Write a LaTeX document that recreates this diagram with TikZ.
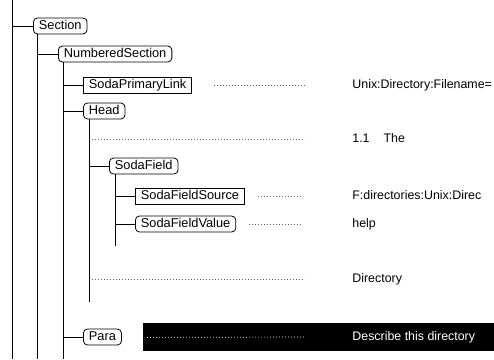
\documentclass[tikz,border=0pt]{standalone}
\usepackage{fontspec}
\setmainfont{Liberation Sans}
\begin{document}
\begin{tikzpicture}[x=1pt, y=-1pt, line width=0.8pt,
  font=\fontsize{12.8}{14}\selectfont,
  tag/.style={draw, rounded corners=4pt, anchor=west, inner xsep=5.5pt, inner ysep=2.2pt, text height=9pt, text depth=2.5pt},
  field/.style={tag, rounded corners=0pt},
  val/.style={anchor=west, inner sep=0pt, text height=9pt, text depth=2.5pt, font=\fontsize{12.4}{14}\selectfont},
  leader/.style={black!60, line width=0.7pt, dash pattern=on 0.8pt off 2.2pt}]

\useasboundingbox (0,0) rectangle (494,359);

% element tree
\node[tag] (sec) at (33,26) {Section};
\node[tag] (nsec) at (58,54) {NumberedSection};
\node[field] (spl) at (83,85) {SodaPrimaryLink};
\node[tag] (head) at (83,111) {Head};
\node[tag] (sf) at (109,166) {SodaField};
\node[field] (sfs) at (135,196) {SodaFieldSource};
\node[tag] (sfv) at (135,224) {SodaFieldValue};
\node[tag] (para) at (83,337) {Para};

% highlighted row
\node[fill=black, anchor=north west, minimum width=351pt, minimum height=28pt, inner sep=0pt] (bar) at (143,323) {};

% content column
\node[val] (v1) at (352,85) {Unix:Directory:Filename=};
\node[val] (v2) at (352,139) {1.1\hspace{14pt}The};
\node[val] (v3) at (352,196) {F:directories:Unix:Direc};
\node[val] (v4) at (352,224) {help};
\node[val] (v5) at (352,279) {Directory};
\node[val, text=white] (v6) at (352,337) {Describe this directory};

\coordinate (top) at (12,0);
\coordinate (bot) at (0,359);
\coordinate (t1) at (92,139);
\coordinate (t2) at (92,279);
\coordinate (headend) at (0,302);
\coordinate (sfend) at (0,246);

% tree lines
\draw (top) -- (top |- bot);
\draw (sec.west) -- (top |- sec.west);
\draw ([xshift=4pt]sec.south west) -- ([xshift=4pt]sec.south west |- bot);
\draw (nsec.west) -- ([xshift=4pt]sec.south west |- nsec.west);
\draw ([xshift=5pt]nsec.south west) -- ([xshift=5pt]nsec.south west |- bot);
\draw (spl.west) -- ([xshift=5pt]nsec.south west |- spl.west);
\draw (head.west) -- ([xshift=5pt]nsec.south west |- head.west);
\draw (para.west) -- ([xshift=5pt]nsec.south west |- para.west);
\draw ([xshift=6pt]head.south west) -- ([xshift=6pt]head.south west |- headend);
\draw (sf.west) -- ([xshift=6pt]head.south west |- sf.west);
\draw ([xshift=6pt]sf.south west) -- ([xshift=6pt]sf.south west |- sfend);
\draw (sfs.west) -- ([xshift=6pt]sf.south west |- sfs.west);
\draw (sfv.west) -- ([xshift=6pt]sf.south west |- sfv.west);

% leaders
\draw[leader] ([xshift=22pt]spl.east) -- ([xshift=-47pt]v1.west);
\draw[leader] (t1) -- ([xshift=-47pt]v2.west);
\draw[leader] ([xshift=13pt]sfs.east) -- ([xshift=-49pt]v3.west);
\draw[leader] ([xshift=13pt]sfv.east) -- ([xshift=-49pt]v4.west);
\draw[leader] (t2) -- ([xshift=-47pt]v5.west);
\draw[leader, white] ([xshift=4pt]bar.west) -- ([xshift=-47pt]v6.west);
\end{tikzpicture}
\end{document}
